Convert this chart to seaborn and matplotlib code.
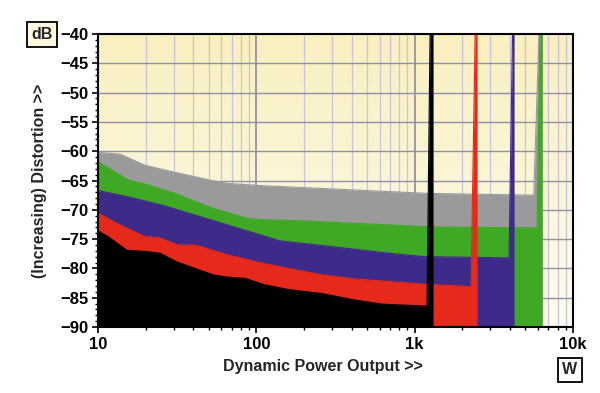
import matplotlib
matplotlib.use("Agg")
import matplotlib.pyplot as plt
import matplotlib.ticker as mticker
import numpy as np
import pandas as pd
import seaborn as sns

# values (power in W, distortion in dB)
gray_w = [10, 13.8, 19.8, 30.6, 52.5, 66.2, 98, 113, 1212, 5650, 6100, 6400]
gray_db = [-60.2, -60.5, -62.4, -63.6, -65.0, -65.5, -65.8, -65.9, -67.2, -67.5, -40, -40]

green_w = [10, 15.5, 19.8, 30.6, 52.5, 88.6, 113, 203, 1212, 5930, 6190, 6385]
green_db = [-61.8, -64.9, -65.6, -67.2, -69.7, -71.5, -71.7, -71.9, -72.9, -73.1, -40, -40]

blue_w = [10, 15.5, 25.4, 41.0, 66.2, 98, 141, 328, 679, 1160, 3945, 4150, 4245]
blue_db = [-66.7, -67.8, -69.2, -70.9, -72.6, -74.0, -75.3, -76.4, -77.4, -78.0, -78.2, -40, -40]

red_w = [10, 13.8, 19.8, 23.9, 32.0, 41.0, 66.2, 105, 159, 260, 420, 1160, 2270, 2410, 2480]
red_db = [-70.6, -72.6, -74.6, -74.7, -76.0, -76.0, -77.7, -79.0, -80.0, -81.1, -81.8, -82.7, -83.1, -40, -40]

black_w = [10, 11.6, 15.2, 19.8, 24.6, 31.5, 41.0, 53.3, 66.2, 84.9, 113, 159, 260, 420, 623,
           1115, 1197, 1251, 1307]
black_db = [-73.6, -74.6, -76.9, -77.1, -77.4, -78.9, -80.0, -81.1, -81.5, -81.7, -82.8, -83.6,
            -84.3, -85.4, -86.1, -86.4, -86.4, -40, -40]

x_ticks = [10, 100, 1000, 10000]
x_labels = ["10", "100", "1k", "10k"]
y_ticks = [-90, -85, -80, -75, -70, -65, -60, -55, -50, -45, -40]

series = {
    "gray": (gray_w, gray_db),
    "green": (green_w, green_db),
    "blue": (blue_w, blue_db),
    "red": (red_w, red_db),
    "black": (black_w, black_db),
}
colors = {"gray": "#9a9a9a", "green": "#3fa824", "blue": "#3e2a88",
          "red": "#e5291b", "black": "#000000"}

df = pd.concat([pd.DataFrame({"Power": w, "dB": d, "Load": k}) for k, (w, d) in series.items()])

sns.set_style("ticks")
plt.rcParams["font.family"] = ["Liberation Sans", "DejaVu Sans"]
plt.rcParams["font.weight"] = "bold"

fig = plt.figure(figsize=(6, 3.93), dpi=100)
pos = [98 / 600, 66 / 393, 475 / 600, 293 / 393]

# gradient background
bg = fig.add_axes(pos, zorder=0)
grad = np.linspace(0, 1, 256).reshape(-1, 1)
cmap = matplotlib.colors.LinearSegmentedColormap.from_list("bg", ["#f9efbf", "#fefcee"])
bg.imshow(grad, aspect="auto", cmap=cmap, extent=[0, 1, 0, 1], origin="upper")
bg.set_axis_off()

ax = fig.add_axes(pos, zorder=1)
ax.set_facecolor("none")
ax.set_xscale("log")

sns.lineplot(data=df, x="Power", y="dB", hue="Load", hue_order=list(series), palette=colors,
             linewidth=0.8, legend=False, ax=ax, estimator=None, sort=False)

for i, (k, (w, d)) in enumerate(series.items()):
    ax.fill_between(w, d, -90, color=colors[k], linewidth=0, zorder=3 + i * 0.1)
for i, line in enumerate(ax.lines):
    line.set_zorder(3.05 + i * 0.1)

ax.set_xlim(10, 10000)
ax.set_ylim(-90, -40)

# grid
minor_x = [m * 10 ** e for e in range(1, 4) for m in range(2, 10)]
for v in minor_x:
    ax.axvline(v, color="#c8c4d8", linewidth=0.9, zorder=1)
for v in x_ticks[1:-1]:
    ax.axvline(v, color="#8c8c9a", linewidth=1.2, zorder=1.1)
for v in y_ticks[1:-1]:
    ax.axhline(v, color="#9090a4", linewidth=1.0, zorder=1.1)

ax.xaxis.set_major_locator(mticker.FixedLocator(x_ticks))
ax.xaxis.set_major_formatter(mticker.FixedFormatter(x_labels))
ax.xaxis.set_minor_locator(mticker.FixedLocator(minor_x))
ax.xaxis.set_minor_formatter(mticker.NullFormatter())
ax.yaxis.set_major_locator(mticker.FixedLocator(y_ticks))
ax.yaxis.set_minor_locator(mticker.MultipleLocator(1))

ax.tick_params(which="major", direction="out", length=4, width=1.2, labelsize=12, pad=3, colors="black")
ax.tick_params(which="minor", direction="out", length=2, width=1, colors="black")
for lab in ax.get_xticklabels() + ax.get_yticklabels():
    lab.set_fontweight("bold")

for s in ax.spines.values():
    s.set_visible(True)
    s.set_linewidth(1.5)
    s.set_color("black")
    s.set_zorder(5)

ax.set_xlabel("")
ax.set_ylabel("")
fig.text(323 / 600, 1 - 366 / 393, "Dynamic Power Output >>", ha="center", va="center",
         fontsize=11.5, fontweight="bold")
fig.text(40 / 600, 1 - 181 / 393, "(Increasing) Distortion >>", ha="center", va="center",
         rotation=90, fontsize=11.5, fontweight="bold")
fig.text(42 / 600, 1 - 34.5 / 393, "dB", ha="center", va="center", fontsize=11.5, fontweight="bold",
         bbox=dict(boxstyle="square,pad=0.3", facecolor="#fdf8df", edgecolor="black", linewidth=1.3))
fig.text(570 / 600, 1 - 370 / 393, "W", ha="center", va="center", fontsize=11.5, fontweight="bold",
         bbox=dict(boxstyle="square,pad=0.3", facecolor="white", edgecolor="black", linewidth=1.3))

fig.savefig("out.png", dpi=100)
